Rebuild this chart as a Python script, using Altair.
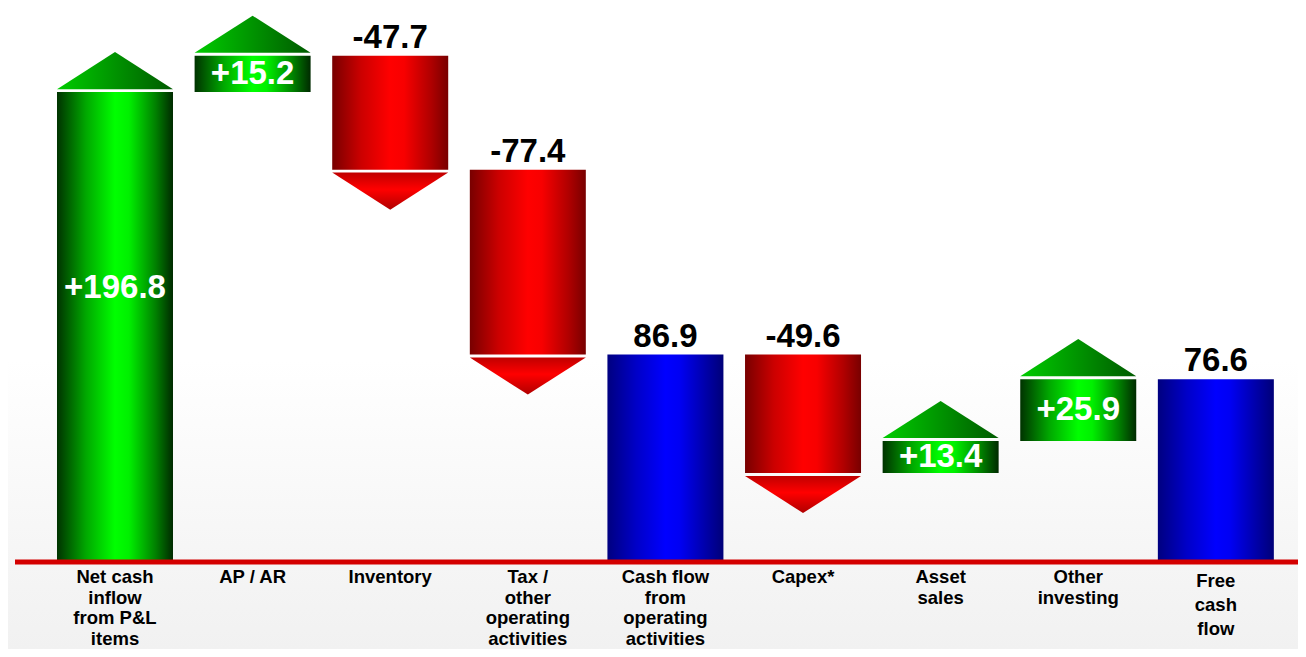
import altair as alt
import pandas as pd

# ---------------- data ----------------
categories = [
    "Net cash\ninflow\nfrom P&L\nitems",
    "AP / AR",
    "Inventory",
    "Tax /\nother\noperating\nactivities",
    "Cash flow\nfrom\noperating\nactivities",
    "Capex*",
    "Asset\nsales",
    "Other\ninvesting",
    "Free\ncash\nflow",
]
values = [196.8, 15.2, -47.7, -77.4, 86.9, -49.6, 13.4, 25.9, 76.6]
is_total = [False, False, False, False, True, False, False, False, True]

rows = []
running = 0.0
for i, (c, v, t) in enumerate(zip(categories, values, is_total)):
    if t:
        start, end = 0.0, v
        running = v
        kind = "total"
        label = f"{v:.1f}"
    else:
        start, end = running, running + v
        running = end
        kind = "up" if v > 0 else "down"
        label = f"{v:+.1f}"
    rows.append(dict(idx=i, cat=c, start=start, end=end,
                     lo=min(start, end), hi=max(start, end),
                     kind=kind, label=label))
df = pd.DataFrame(rows)

# ---------------- layout ----------------
W, H = 1283, 641
X = alt.Scale(domain=[-0.7267, 8.597], nice=False, zero=False)
Y = alt.Scale(domain=[-36.4, 232], nice=False, zero=False)
HALF = 0.4215        # half bar width in x units
TRI_OFF = 9.0        # triangle centre offset from bar end (y units)
FONT = "Liberation Sans"


def hgrad(stops):
    return alt.LinearGradient(
        gradient="linear", x1=0, x2=1, y1=0, y2=0,
        stops=[alt.GradientStop(offset=o, color=c) for o, c in stops])


def vgrad(stops):
    return alt.LinearGradient(
        gradient="linear", x1=0, x2=0, y1=0, y2=1,
        stops=[alt.GradientStop(offset=o, color=c) for o, c in stops])


green_bar = hgrad([(0, "#003300"), (0.25, "#00a800"), (0.5, "#00ff00"),
                   (0.62, "#00f000"), (0.85, "#008000"), (1, "#002a00")])
red_bar = hgrad([(0, "#780000"), (0.25, "#cc0000"), (0.5, "#ff0000"),
                 (0.62, "#f80000"), (0.85, "#b00000"), (1, "#780000")])
blue_bar = hgrad([(0, "#000080"), (0.25, "#0000c8"), (0.5, "#0000ff"),
                  (0.62, "#0000f4"), (0.85, "#0000a8"), (1, "#000078")])
green_tri = hgrad([(0, "#00cc00"), (1, "#005a00")])
red_tri = vgrad([(0, "#c00000"), (0.45, "#ff0000"), (1, "#b00000")])
bg_grad = vgrad([(0, "#ffffff"), (0.55, "#ffffff"), (1, "#f1f1f1")])

UP_PATH = "M -1 0.32 L 0 -0.32 L 1 0.32 Z"
DOWN_PATH = "M -1 -0.32 L 1 -0.32 L 0 0.32 Z"

base = alt.Chart(df).transform_calculate(
    x1=f"datum.idx - {HALF}",
    x2=f"datum.idx + {HALF}",
    tri_up=f"datum.hi + {TRI_OFF}",
    tri_down=f"datum.lo - {TRI_OFF}",
    lab_in="datum.start == 0 ? datum.end * 0.583 : (datum.lo + datum.hi) / 2",
)

background = alt.Chart(pd.DataFrame({"a": [0]})).mark_rect(fill=bg_grad).encode(
    x=alt.value(-7), x2=alt.value(W), y=alt.value(0), y2=alt.value(H))


def bars(kind, grad):
    return base.transform_filter(f"datum.kind == '{kind}'").mark_rect(
        fill=grad, strokeWidth=0).encode(
        x=alt.X("x1:Q", scale=X, axis=None), x2="x2:Q",
        y=alt.Y("lo:Q", scale=Y, axis=None), y2="hi:Q")


def tri(kind, field, path, grad):
    return base.transform_filter(f"datum.kind == '{kind}'").mark_point(
        shape=path, size=13456, filled=True, fill=grad, opacity=1,
        strokeWidth=0).encode(
        x=alt.X("idx:Q", scale=X, axis=None),
        y=alt.Y(f"{field}:Q", scale=Y, axis=None))


white_labels = base.transform_filter("datum.kind == 'up'").mark_text(
    font=FONT, fontSize=33, fontWeight="bold", color="white",
    align="center", baseline="middle").encode(
    x=alt.X("idx:Q", scale=X, axis=None),
    y=alt.Y("lab_in:Q", scale=Y, axis=None), text="label:N")

black_labels = base.transform_filter("datum.kind != 'up'").mark_text(
    font=FONT, fontSize=33, fontWeight="bold", color="black",
    align="center", baseline="alphabetic", dy=-8).encode(
    x=alt.X("idx:Q", scale=X, axis=None),
    y=alt.Y("hi:Q", scale=Y, axis=None), text="label:N")

cat_main = base.transform_filter("datum.idx != 8").transform_calculate(
    ly="-8.8").mark_text(
    font=FONT, fontSize=18.5, fontWeight="bold", color="black",
    align="center", baseline="alphabetic", lineBreak="\n", lineHeight=20.5).encode(
    x=alt.X("idx:Q", scale=X, axis=None),
    y=alt.Y("ly:Q", scale=Y, axis=None), text="cat:N")

cat_last = base.transform_filter("datum.idx == 8").transform_calculate(
    ly="-10.5").mark_text(
    font=FONT, fontSize=18.5, fontWeight="bold", color="black",
    align="center", baseline="alphabetic", lineBreak="\n", lineHeight=24).encode(
    x=alt.X("idx:Q", scale=X, axis=None),
    y=alt.Y("ly:Q", scale=Y, axis=None), text="cat:N")

baseline_rule = alt.Chart(pd.DataFrame({"y": [0]})).mark_rule(
    color="#d40000", strokeWidth=5).encode(
    y=alt.Y("y:Q", scale=Y, axis=None))

chart = alt.layer(
    background,
    bars("up", green_bar),
    bars("down", red_bar),
    bars("total", blue_bar),
    tri("up", "tri_up", UP_PATH, green_tri),
    tri("down", "tri_down", DOWN_PATH, red_tri),
    baseline_rule,
    white_labels,
    black_labels,
    cat_main,
    cat_last,
).properties(
    width=W, height=H,
    autosize=alt.AutoSizeParams(type="none"),
    padding={"left": 7, "right": 0, "top": 0, "bottom": 0},
).configure_view(stroke=None)

chart.save("out.html", embed_options={"renderer": "svg", "actions": False})
